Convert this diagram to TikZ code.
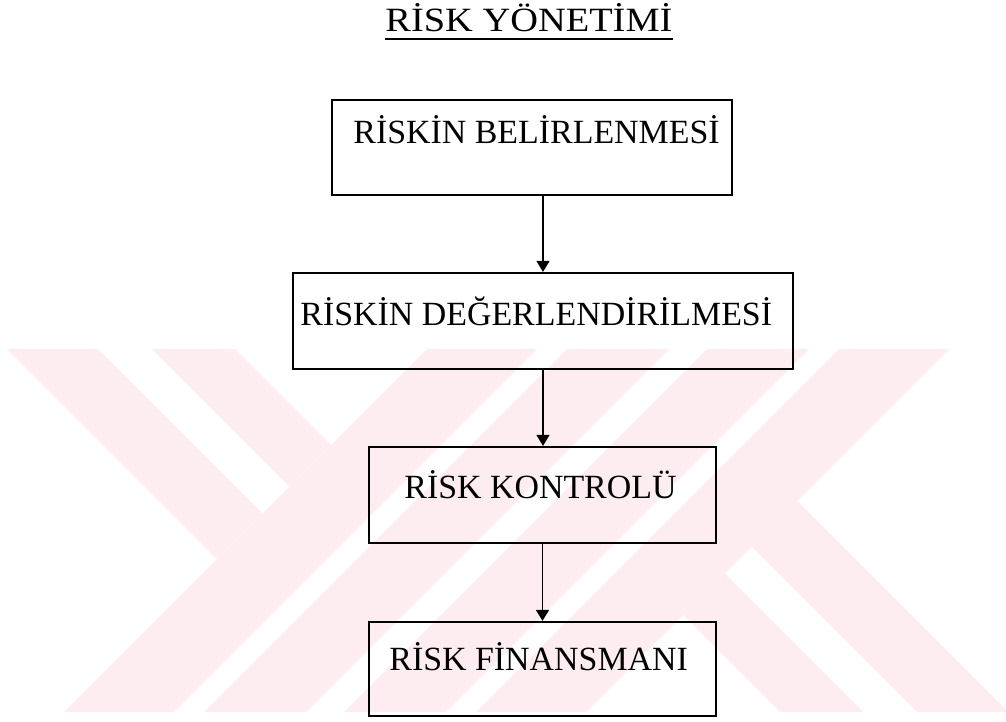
\documentclass[tikz,border=0pt]{standalone}
\usepackage{fontspec}
\setmainfont{Liberation Serif}
\usetikzlibrary{arrows.meta}
\definecolor{wm}{RGB}{253,236,240}
\begin{document}
\begin{tikzpicture}[x=0.5pt,y=-0.5pt,
  boxst/.style={draw, line width=1.1pt, rectangle, inner sep=0pt},
  lbl/.style={anchor=base west, inner sep=0pt, font=\fontsize{16.95}{20}\selectfont},
  arr/.style={line width=0.7pt, -{Triangle[length=5.5pt,width=6.5pt]}}]
\useasboundingbox (0,0) rectangle (1006,722);
% watermark
\begin{scope}
\clip (0,349) rectangle (1006,712);
\fill[wm] (427,349) -- (537,349) -- (174,712) -- (64,712) -- cycle;
\fill[wm] (567,349) -- (669,349) -- (306,712) -- (204,712) -- cycle;
\fill[wm] (707,349) -- (809,349) -- (446,712) -- (344,712) -- cycle;
\fill[wm] (839,349) -- (949,349) -- (586,712) -- (476,712) -- cycle;
\fill[wm] (7,349) -- (98,349) -- (262.5,513.5) -- (217,559) -- cycle;
\fill[wm] (152,349) -- (235,349) -- (331,445) -- (289.5,486.5) -- cycle;
\fill[wm] (797,501) -- (751.5,546.5) -- (917,712) -- (1008,712) -- cycle;
\fill[wm] (724.5,573.5) -- (683,615) -- (780,712) -- (863,712) -- cycle;
\end{scope}
% title
\node[anchor=base west, inner sep=0pt, font=\fontsize{17}{20}\selectfont, xscale=1.13] (title) at (385,32) {RİSK YÖNETİMİ};
\draw[line width=1pt] ([yshift=-3.5pt]title.base west) -- ([yshift=-3.5pt]title.base east);
% boxes
\node[boxst, minimum width=200pt, minimum height=47.5pt] (b1) at (532,147.5) {};
\node[boxst, minimum width=250pt, minimum height=48pt] (b2) at (543,321) {};
\node[boxst, minimum width=173.5pt, minimum height=48pt] (b3) at (542.5,495) {};
\node[boxst, minimum width=173.5pt, minimum height=47pt] (b4) at (542.5,669) {};
% texts
\node[lbl] (t1) at (353,143) {RİSKİN BELİRLENMESİ};
\node[lbl] (t2) at (300,325) {RİSKİN DEĞERLENDİRİLMESİ};
\node[lbl] (t3) at (404,498) {RİSK KONTROLÜ};
\node[lbl] (t4) at (389,670) {RİSK FİNANSMANI};
% arrows
\draw[arr] (b1.south -| b2.north) -- (b2.north);
\draw[arr] (b2.south) -- (b3.north -| b2.south);
\draw[arr] (b3.south) -- (b4.north);
\end{tikzpicture}
\end{document}
